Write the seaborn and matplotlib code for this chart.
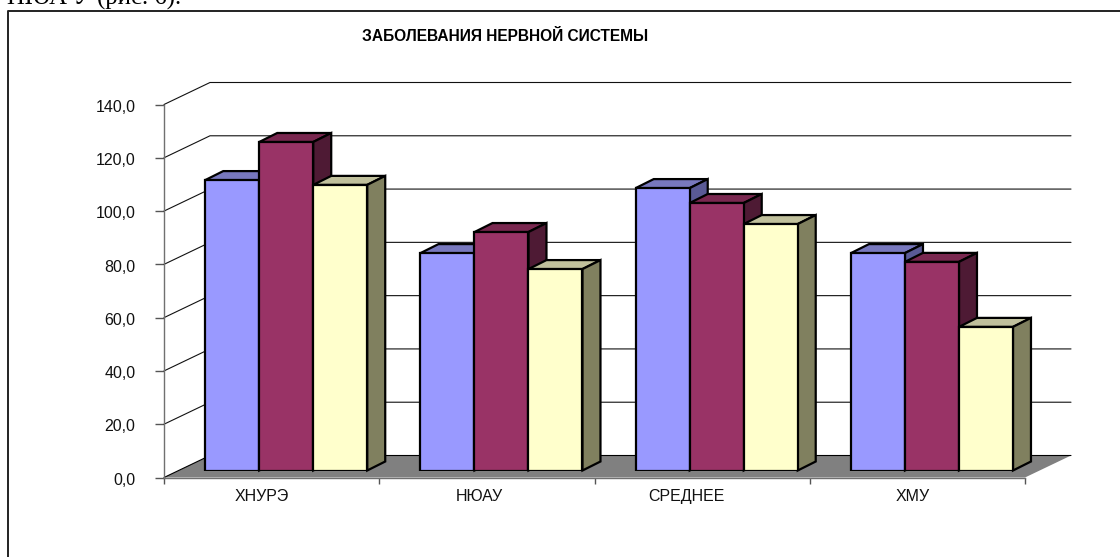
import pandas as pd
import matplotlib
matplotlib.use("Agg")
import matplotlib.pyplot as plt
import seaborn as sns
from matplotlib.lines import Line2D
from matplotlib.patches import Polygon
from matplotlib.transforms import ScaledTranslation

# данные
categories = ['ХНУРЭ', 'НЮАУ', 'СРЕДНЕЕ', 'ХМУ']
series_names = ['s1', 's2', 's3']
s1 = [109.0, 81.6, 106.0, 81.6]
s2 = [123.3, 89.5, 100.4, 78.3]
s3 = [107.2, 75.6, 92.5, 53.9]
y_ticks = [0, 20, 40, 60, 80, 100, 120, 140]

W, H = 1120, 557
front = '#9999FF', '#993366', '#FFFFCC'
top = '#7878BE', '#7A2850', '#C0C09C'
side = '#5A5A96', '#4E1A34', '#80805F'
# подписи категорий стоят не точно по центру, сдвиг в пикселях
label_shift = [-9.6, -7.4, -16, -5]

df = pd.DataFrame({'cat': categories * 3,
                   'ser': sum([[n] * 4 for n in series_names], []),
                   'val': s1 + s2 + s3})


def box(x0, y_top, x1, y_bottom):
    return [x0 / W, 1 - y_bottom / H, (x1 - x0) / W, (y_bottom - y_top) / H]


sns.set_theme(style="white")
plt.rcParams['font.family'] = ['Liberation Sans', 'DejaVu Sans']
fig = plt.figure(figsize=(W / 100, H / 100), dpi=100, facecolor='white')

# рамка и обрезанная строка текста над ней
fig.add_artist(Line2D([1, 7.5 / W, 7.5 / W], [1 - 11 / H, 1 - 11 / H, 0],
                      color='#222222', lw=1.4, transform=fig.transFigure))
fig.text(7 / W, 1 - 4.5 / H, 'НЮА У (рис. 6).', family='Liberation Serif',
         fontsize=17.8, color='black', va='baseline')
fig.text(505 / W, 1 - 36.5 / H, 'ЗАБОЛЕВАНИЯ НЕРВНОЙ СИСТЕМЫ', fontsize=11.2,
         fontweight='bold', color='black', ha='center', va='center')

# передняя плоскость: оси
ax = fig.add_axes(box(164, 104.5, 1025, 477.5))
ax.patch.set_alpha(0)
ax.set_xlim(-0.5, 3.5)
ax.set_ylim(0, 140)
for name in ['top', 'right']:
    ax.spines[name].set_visible(False)
for name in ['left', 'bottom']:
    ax.spines[name].set_color('#707070')
    ax.spines[name].set_linewidth(1.0)

ax.set_yticks(y_ticks)
ax.set_yticklabels([f'{v:.1f}'.replace('.', ',') for v in y_ticks], fontsize=11.5, color='#111111')
ax.set_xticks([-0.5, 0.5, 1.5, 2.5, 3.5])
ax.set_xticklabels([])
ax.tick_params(axis='y', left=True, length=6.5, width=1, color='#555555', direction='out', pad=14)
ax.tick_params(axis='x', bottom=True, length=4.3, width=1, color='#555555', direction='out')
down = ScaledTranslation(0, -1.2 / 100, fig.dpi_scale_trans)
for lab in ax.get_yticklabels():
    lab.set_transform(lab.get_transform() + down)
for i, c in enumerate(categories):
    ax.text(i + label_shift[i] / 215.25, -7.3, c, fontsize=11.5, color='#111111', ha='center', va='center')

# глубина стен в единицах данных
wall_dx = 46 / 215.25
wall_dy = 22 / (373 / 140)
for v in y_ticks[1:]:
    ax.plot([-0.5, -0.5 + wall_dx, 3.5 + wall_dx], [v, v + wall_dy, v + wall_dy],
            color='#111111', lw=0.8, clip_on=False, zorder=1, solid_joinstyle='miter')

# пол
floor = [(-0.5, 0), (-0.5 + wall_dx, wall_dy), (3.5 + wall_dx, wall_dy), (3.5, 0)]
ax.add_patch(Polygon(floor, closed=True, facecolor='#808080', edgecolor='none', clip_on=False, zorder=1))
ax.plot([-0.5, -0.5 + wall_dx, 3.5 + wall_dx], [0, wall_dy, wall_dy],
        color='black', lw=0.8, clip_on=False, zorder=1.5)

# столбцы: своя прозрачная плоскость, чуть сдвинутая внутрь
ax2 = fig.add_axes(box(164 + 14.6, 104.5 - 7, 1025 + 14.6, 477.5 - 7), sharey=None)
ax2.patch.set_alpha(0)
sns.barplot(data=df, x='cat', y='val', hue='ser', order=categories, hue_order=series_names,
            palette=list(front), width=0.7526, gap=0, dodge=True, legend=False,
            edgecolor='black', linewidth=1.6, ax=ax2, saturation=1)
ax2.set_xlim(-0.5, 3.5)
ax2.set_ylim(0, 140)
ax2.axis('off')

bar_dx = 18 / 215.25
bar_dy = 9 / (373 / 140)
for s, bars in enumerate(ax2.containers):
    for b in bars:
        b.set_zorder(10 + 3 * (b.get_x() * 3 + s))
        x0, x1, h = b.get_x(), b.get_x() + b.get_width(), b.get_height()
        tp = [(x0, h), (x0 + bar_dx, h + bar_dy), (x1 + bar_dx, h + bar_dy), (x1, h)]
        sd = [(x1, 0), (x1 + bar_dx, bar_dy), (x1 + bar_dx, h + bar_dy), (x1, h)]
        z = b.get_zorder() - 1
        ax2.add_patch(Polygon(tp, closed=True, facecolor=top[s], edgecolor='black', lw=1.6,
                              clip_on=False, zorder=z, joinstyle='miter'))
        ax2.add_patch(Polygon(sd, closed=True, facecolor=side[s], edgecolor='black', lw=1.6,
                              clip_on=False, zorder=z, joinstyle='miter'))

fig.savefig('out.png', dpi=100)
